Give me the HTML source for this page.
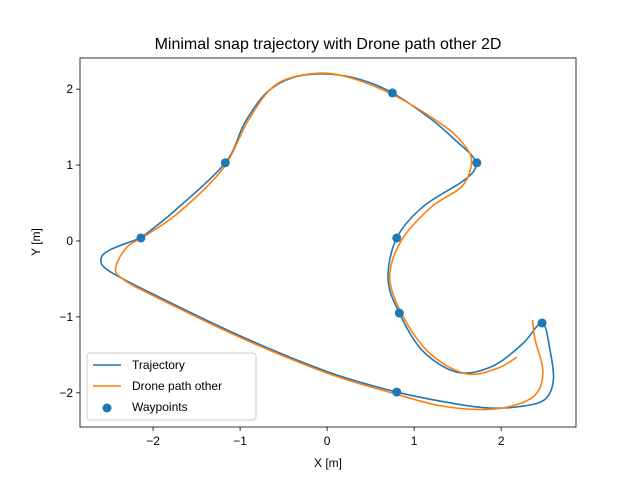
<!DOCTYPE html>
<html><head><meta charset="utf-8"><style>
body{margin:0;background:#fff}
svg text{font-family:"Liberation Sans","DejaVu Sans",sans-serif}
</style></head><body>
<svg id="c" width="640" height="480" xmlns="http://www.w3.org/2000/svg"></svg>
<script>
const xTicks=[-2,-1,0,1,2];
const yTicks=[-2,-1,0,1,2];
const trajX=[-2.14,-1.75,-1.17,-0.95,-0.7,-0.4,0,0.4,0.75,1.2,1.5,1.68,1.7,1.55,1.1,0.8,0.7,0.83,1.1,1.5,1.9,2.25,2.47,2.56,2.6,2.5,2.22,1.87,1.5,0.8,0,-1,-2,-2.5,-2.6,-2.5,-2.14];
const trajY=[0.04,0.4,1.03,1.55,1.95,2.15,2.2,2.12,1.95,1.6,1.3,1.1,0.95,0.78,0.45,0.04,-0.5,-0.95,-1.45,-1.73,-1.65,-1.35,-1.08,-1.43,-1.83,-2.09,-2.18,-2.2,-2.15,-1.99,-1.72,-1.25,-0.7,-0.4,-0.25,-0.12,0.04];
const droneX=[2.36,2.39,2.48,2.39,2.1,1.76,1.3,0.8,0,-1,-2,-2.35,-2.43,-2.3,-2.1,-1.7,-1.2,-0.9,-0.6,-0.2,0.2,0.75,1.3,1.55,1.66,1.55,1.2,0.85,0.72,0.9,1.2,1.6,1.95,2.18];
const droneY=[-1.04,-1.3,-1.72,-2.03,-2.18,-2.22,-2.17,-2.02,-1.74,-1.27,-0.72,-0.5,-0.35,-0.08,0.06,0.38,0.95,1.6,2.05,2.2,2.17,1.93,1.55,1.3,1.05,0.72,0.45,0.0,-0.5,-1.05,-1.5,-1.75,-1.68,-1.53];
const wpX=[-2.14,-1.17,0.75,1.72,0.8,0.83,2.47,0.8];
const wpY=[0.04,1.03,1.95,1.03,0.04,-0.95,-1.08,-1.99];
const L=80,R=576,T=58,B=427,x0=-2.84,x1=2.86,y0=-2.45,y1=2.41;
const sx=v=>L+(v-x0)/(x1-x0)*(R-L), sy=v=>B-(v-y0)/(y1-y0)*(B-T);
const svg=document.getElementById('c');const NS='http://www.w3.org/2000/svg';
function mk(t,a,p){const e=document.createElementNS(NS,t);for(const k in a)e.setAttribute(k,a[k]);(p||svg).appendChild(e);return e;}
function smooth(X,Y){const P=X.map((x,i)=>[sx(x),sy(Y[i])]);let d='M'+P[0][0]+','+P[0][1];
for(let i=0;i<P.length-1;i++){const p0=P[Math.max(i-1,0)],p1=P[i],p2=P[i+1],p3=P[Math.min(i+2,P.length-1)];
d+=' C'+(p1[0]+(p2[0]-p0[0])/6)+','+(p1[1]+(p2[1]-p0[1])/6)+' '+(p2[0]-(p3[0]-p1[0])/6)+','+(p2[1]-(p3[1]-p1[1])/6)+' '+p2[0]+','+p2[1];}return d;}
let t=mk('text',{x:328,y:49,'text-anchor':'middle','font-size':16,fill:'#000'});t.textContent='Minimal snap trajectory with Drone path other 2D';


xTicks.forEach(v=>{const x=sx(v);mk('line',{x1:x,x2:x,y1:B,y2:B+4,stroke:'#000','stroke-width':0.8});
const e=mk('text',{x:x,y:B+18,'text-anchor':'middle','font-size':12});e.textContent=v<0?'−'+(-v):v;

});
yTicks.forEach(v=>{const y=sy(v);mk('line',{x1:L-4,x2:L,y1:y,y2:y,stroke:'#000','stroke-width':0.8});
const e=mk('text',{x:L-7,y:y+4,'text-anchor':'end','font-size':12});e.textContent=v<0?'−'+(-v):v;

});
t=mk('text',{x:328,y:467,'text-anchor':'middle','font-size':12});t.textContent='X [m]';


t=mk('text',{x:40,y:242,'text-anchor':'middle','font-size':12,transform:'rotate(-90 40 242)'});t.textContent='Y [m]';


let p=mk('path',{d:smooth(trajX,trajY),fill:'none',stroke:'#1f77b4','stroke-width':1.6});


p=mk('path',{d:smooth(droneX,droneY),fill:'none',stroke:'#ff7f0e','stroke-width':1.6});


wpX.forEach((v,i)=>{const c=mk('circle',{cx:sx(v),cy:sy(wpY[i]),r:4.5,fill:'#1f77b4'});

});
const fr=mk('rect',{x:L,y:T,width:R-L,height:B-T,fill:'none',stroke:'#000','stroke-width':0.8});


const g=mk('g',{});


mk('rect',{x:87,y:353,width:169,height:67,rx:3,fill:'#fff','fill-opacity':0.8,stroke:'#ccc'},g);
const items=[['Trajectory','#1f77b4','line'],['Drone path other','#ff7f0e','line'],['Waypoints','#1f77b4','dot']];
items.forEach((it,i)=>{const y=365+i*21;
if(it[2]=='line')mk('line',{x1:93,x2:121,y1:y,y2:y,stroke:it[1],'stroke-width':1.6},g);else mk('circle',{cx:107,cy:y+1,r:4.5,fill:it[1]},g);
const e=mk('text',{x:132,y:y+4,'font-size':12},g);e.textContent=it[0];

});
</script>
</body></html>
